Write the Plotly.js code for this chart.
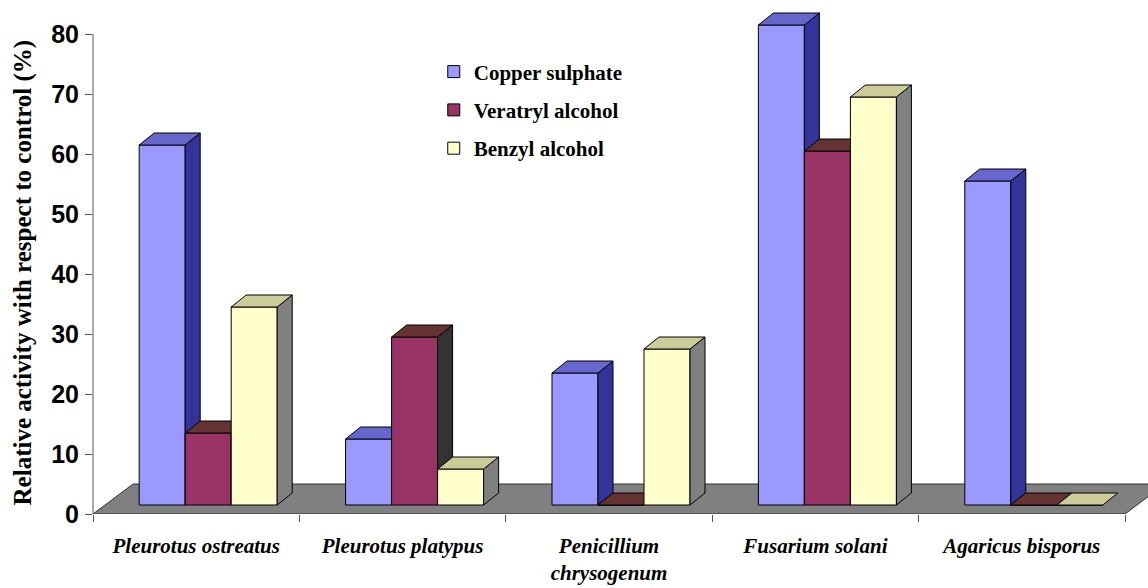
<!DOCTYPE html>
<html>
<head>
<meta charset="utf-8">
<script src="https://cdn.plot.ly/plotly-3.0.1.min.js"></script>
<style>html,body{margin:0;padding:0;background:#fff}#chart{width:1148px;height:588px}</style>
</head>
<body>
<div id="chart"></div>
<script>
// ---- data ----
const categories = ['Pleurotus ostreatus', 'Pleurotus platypus', 'Penicillium<br>chrysogenum', 'Fusarium solani', 'Agaricus bisporus'];
const seriesNames = ['Copper sulphate', 'Veratryl alcohol', 'Benzyl alcohol'];
const copperSulphate = [60, 11, 22, 80, 54];
const veratrylAlcohol = [12, 28, 0, 59, 0];
const benzylAlcohol = [33, 6, 26, 68, 0];
const yTickValues = [0, 10, 20, 30, 40, 50, 60, 70, 80];

// ---- style ----
const frontColors = ['#9999FF', '#993366', '#FFFFCC'];
const topColors = ['#6666CC', '#663333', '#CCCC99'];
const sideColors = ['#333399', '#333333', '#808080'];
const BASE = 1.5;      // bars stand slightly behind the front edge of the floor
const W = 0.2229;      // bar width (category units)
const SHIFT = 0.0581;  // horizontal shift of the bar plane
const DX = 0.0727;     // depth offset, x
const DY = 2;          // depth offset, y
const XR = [-0.5, 4.6114];
const YR = [0, 85];

const series = [copperSulphate, veratrylAlcohol, benzylAlcohol];
const idx = categories.map((c, i) => i);
const suffix = ['', '2', '3'];
const traces = [];

series.forEach((vals, s) => {
  const xa = 'x' + suffix[s], ya = 'y' + suffix[s];
  const off = SHIFT + (s - 1.5) * W;
  traces.push({
    type: 'bar', name: seriesNames[s], x: idx, y: vals, base: BASE,
    offset: off, width: W, xaxis: xa, yaxis: ya,
    legendgroup: 'g' + s, showlegend: true,
    marker: {color: frontColors[s], line: {color: '#000', width: 1}},
    hoverinfo: 'skip'
  });
  vals.forEach((v, i) => {
    const xl = idx[i] + off, xr = xl + W, b = BASE, t = BASE + v;
    if (v > 0) {
      traces.push({
        type: 'scatter', mode: 'lines', fill: 'toself', xaxis: xa, yaxis: ya,
        x: [xr, xr + DX, xr + DX, xr, xr], y: [b, b + DY, t + DY, t, b],
        fillcolor: sideColors[s], line: {color: '#000', width: 1},
        showlegend: false, hoverinfo: 'skip'
      });
    }
    traces.push({
      type: 'scatter', mode: 'lines', fill: 'toself', xaxis: xa, yaxis: ya,
      x: [xl, xr, xr + DX, xl + DX, xl], y: [t, t, t + DY, t + DY, t],
      fillcolor: topColors[s], line: {color: '#000', width: 1},
      showlegend: false, hoverinfo: 'skip'
    });
  });
});

const floorDX = 0.1938, floorDY = 5;
const floorPath = 'M ' + XR[0] + ',0 L 4.5,0 L ' + (4.5 + floorDX) + ',' + floorDY +
  ' L ' + (XR[0] + floorDX) + ',' + floorDY + ' Z';

const boundaries = [-0.5, 0.5, 1.5, 2.5, 3.5, 4.5];
const hidden = {range: YR, visible: false, fixedrange: true};

const layout = {
  width: 1148, height: 588,
  margin: {l: 93, r: 0, t: 4, b: 74},
  paper_bgcolor: '#fff', plot_bgcolor: 'rgba(0,0,0,0)',
  barmode: 'overlay',
  xaxis: {range: XR, tickvals: boundaries, ticktext: boundaries.map(() => ''),
    ticks: 'outside', ticklen: 7, tickcolor: '#555', tickwidth: 1,
    showgrid: false, zeroline: false, showline: false, showticklabels: false, fixedrange: true},
  xaxis2: {range: XR, overlaying: 'x', anchor: 'y2', side: 'bottom',
    tickvals: idx, ticktext: categories, ticks: '', ticklabelstandoff: 17,
    showgrid: false, zeroline: false, showline: false, fixedrange: true,
    tickfont: {family: 'Liberation Serif, Times New Roman, serif', size: 21, style: 'italic', weight: 'bold', color: '#000'}},
  xaxis3: {range: XR, overlaying: 'x', anchor: 'y3', visible: false, fixedrange: true},
  yaxis: {range: YR, tickvals: yTickValues, ticks: 'outside', ticklen: 7, tickcolor: '#555',
    ticklabelstandoff: 1, showgrid: false, zeroline: false, showline: false, fixedrange: true,
    tickfont: {family: 'Liberation Sans, Arial, sans-serif', size: 25, weight: 'bold', color: '#000'}},
  yaxis2: Object.assign({overlaying: 'y', anchor: 'x2'}, hidden),
  yaxis3: Object.assign({overlaying: 'y', anchor: 'x3'}, hidden),
  showlegend: true,
  legend: {x: 0.323, xanchor: 'left', y: 0.907, yanchor: 'top',
    traceorder: 'grouped', tracegroupgap: 8, bgcolor: 'rgba(0,0,0,0)',
    font: {family: 'Liberation Serif, Times New Roman, serif', size: 21, weight: 'bold', color: '#000'}},
  shapes: [
    {type: 'path', xref: 'x', yref: 'y', layer: 'below', path: floorPath,
      fillcolor: '#808080', line: {color: '#333', width: 1}},
    {type: 'line', xref: 'paper', yref: 'y', x0: 0, x1: 0, y0: 0, y1: 80,
      line: {color: '#555', width: 1}}
  ],
  annotations: [
    {text: 'Relative activity with respect to control (%)', textangle: -90,
      xref: 'paper', yref: 'paper', x: -0.0664, y: 0.4735, xanchor: 'center', yanchor: 'middle',
      showarrow: false,
      font: {family: 'Liberation Serif, Times New Roman, serif', size: 25, weight: 'bold', color: '#000'}}
  ]
};

Plotly.newPlot('chart', traces, layout, {displayModeBar: false, staticPlot: true});
</script>
</body>
</html>
